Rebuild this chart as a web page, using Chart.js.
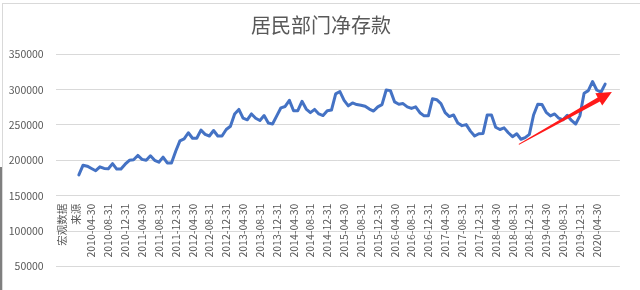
<!DOCTYPE html>
<html>
<head>
<meta charset="utf-8">
<script src="https://cdn.jsdelivr.net/npm/chart.js@4.4.1/dist/chart.umd.min.js"></script>
<style>
  html, body { margin: 0; padding: 0; background: #fff; overflow: hidden; width: 640px; height: 290px; }
  #frame { position: absolute; left: 2px; top: 3px; width: 660px; height: 400px; border: 1px solid #d9d9d9; box-sizing: border-box; }
  #wrap { position: absolute; left: 0; top: 0; width: 640px; height: 320px; }
  #edge { position: absolute; left: 0; top: 167px; width: 2px; height: 130px; background: #7f7f7f; }
</style>
</head>
<body>
<div id="frame"></div>
<div id="wrap"><canvas id="c"></canvas></div>
<div id="edge"></div>
<script>
// ---- text ----
const titleText = '居民部门净存款';
const sourceNote = ['宏观数据', '来源'];

// ---- categories: month-ends 2009-08 .. 2020-09 (data present 2010-01 .. 2020-06) ----
const axisStart = { year: 2009, month: 8 };
const axisMonths = 134;
const categories = [];
for (let k = 0; k < axisMonths; k++) {
  const y = axisStart.year + Math.floor((axisStart.month - 1 + k) / 12);
  const m = (axisStart.month - 1 + k) % 12 + 1;
  const d = new Date(Date.UTC(y, m, 0)).getUTCDate();
  categories.push(y + '-' + String(m).padStart(2, '0') + '-' + String(d).padStart(2, '0'));
}
const leadingBlank = 5;   // 2009-08 .. 2009-12
const trailingBlank = 3;  // 2020-07 .. 2020-09

// ---- tick labels shown on the category axis ----
const tickLabels = [
  '2010-04-30','2010-08-31','2010-12-31','2011-04-30','2011-08-31','2011-12-31',
  '2012-04-30','2012-08-31','2012-12-31','2013-04-30','2013-08-31','2013-12-31',
  '2014-04-30','2014-08-31','2014-12-31','2015-04-30','2015-08-31','2015-12-31',
  '2016-04-30','2016-08-31','2016-12-31','2017-04-30','2017-08-31','2017-12-31',
  '2018-04-30','2018-08-31','2018-12-31','2019-04-30','2019-08-31','2019-12-31',
  '2020-04-30'
];
const sourceNoteIndex = 1;

// ---- series: household net deposits, monthly 2010-01 .. 2020-06 ----
const netDeposits = [
  179400, 193100, 191700, 188500, 185300, 190800, 188500, 188100, 195400, 187600, 187600, 194500,
  200000, 200900, 206900, 201400, 200000, 206400, 200000, 197300, 204600, 196300, 196300, 212900,
  227500, 230300, 239000, 231200, 231200, 242700, 236700, 234400, 242200, 234400, 234400, 243600,
  248200, 265600, 272000, 259600, 257300, 265600, 259600, 256400, 263300, 252800, 251400, 262900,
  274300, 276200, 284900, 270200, 270200, 283500, 272500, 267400, 272000, 265600, 263300, 270200,
  271100, 294000, 297300, 284900, 277100, 281200, 278900, 278000, 276600, 272500, 269700, 275700,
  278900, 299500, 298600, 282600, 279400, 280300, 275700, 273400, 275700, 267400, 262900, 262900,
  287200, 285800, 280300, 267400, 261900, 264200, 252800, 249100, 250500, 241300, 234400, 237600,
  238100, 264200, 264200, 246800, 243600, 245900, 239000, 233500, 237600, 229800, 232100, 236700,
  264200, 279400, 278900, 267900, 262900, 265600, 259600, 257300, 263800, 256400, 251400, 262900,
  295000, 298600, 311500, 299500, 296300, 307800
];

// ---- y-axis ----
const yMin = 0, yMax = 350000, yStep = 50000;
const xAxisCrossesAt = 150000;

// ---- annotation arrow (category index, value) ----
const trendArrow = { fromIndex: 109.5, fromValue: 222600, toIndex: 131.6, toValue: 296500 };

const seriesData = new Array(leadingBlank).fill(null)
  .concat(netDeposits)
  .concat(new Array(trailingBlank).fill(null));

const FONT = '"Noto Sans CJK SC", "Noto Sans", sans-serif';
const GREY = '#595959';

const arrowPlugin = {
  id: 'trendArrow',
  afterDatasetsDraw(chart) {
    const xs = chart.scales.x, ys = chart.scales.y, ctx = chart.ctx;
    const x1 = xs.getPixelForValue(trendArrow.fromIndex), y1 = ys.getPixelForValue(trendArrow.fromValue);
    const x2 = xs.getPixelForValue(trendArrow.toIndex), y2 = ys.getPixelForValue(trendArrow.toValue);
    const len = Math.hypot(x2 - x1, y2 - y1);
    const ux = (x2 - x1) / len, uy = (y2 - y1) / len;
    const nx = -uy, ny = ux;
    const headLen = 15, headHalf = 7, tailHalf = 0.5, neckHalf = 2.3;
    const bx = x2 - ux * headLen, by = y2 - uy * headLen;
    ctx.save();
    ctx.fillStyle = '#ff1a1a';
    ctx.beginPath();
    ctx.moveTo(x1 + nx * tailHalf, y1 + ny * tailHalf);
    ctx.lineTo(bx + nx * neckHalf, by + ny * neckHalf);
    ctx.lineTo(bx + nx * headHalf, by + ny * headHalf);
    ctx.lineTo(x2, y2);
    ctx.lineTo(bx - nx * headHalf, by - ny * headHalf);
    ctx.lineTo(bx - nx * neckHalf, by - ny * neckHalf);
    ctx.lineTo(x1 - nx * tailHalf, y1 - ny * tailHalf);
    ctx.closePath();
    ctx.fill();
    ctx.restore();
  }
};

// let the y-axis labels use the full left margin (the layout keeps a left pad so the title centres like the original)
const yLabelRoom = {
  id: 'yLabelRoom',
  afterLayout(chart) { chart.scales.y.left = 0; }
};

new Chart(document.getElementById('c'), {
  type: 'line',
  data: {
    labels: categories,
    datasets: [{
      data: seriesData,
      borderColor: '#4472C4',
      borderWidth: 3,
      pointRadius: 0,
      tension: 0,
      borderJoinStyle: 'round',
      borderCapStyle: 'round',
      fill: false
    }]
  },
  options: {
    responsive: true,
    maintainAspectRatio: false,
    animation: false,
    layout: { padding: { top: 3, left: 15.3, right: 13.3, bottom: 12.3 } },
    plugins: {
      legend: { display: false },
      tooltip: { enabled: false },
      title: {
        display: true,
        text: titleText,
        color: GREY,
        font: { family: FONT, size: 20, weight: 'normal', lineHeight: 1.2 },
        padding: { top: 10, bottom: 17.3 }
      }
    },
    scales: {
      x: {
        type: 'category',
        offset: true,
        position: { y: xAxisCrossesAt },
        grid: { display: false, drawTicks: false },
        border: { display: false },
        ticks: {
          autoSkip: false,
          maxRotation: 90,
          minRotation: 90,
          padding: 8,
          color: GREY,
          font: { family: FONT, size: 10.5, lineHeight: 1.35 },
          callback: function (val, index) {
            if (index === sourceNoteIndex) return sourceNote;
            const lbl = this.getLabelForValue(val);
            return tickLabels.includes(lbl) ? lbl : '';
          }
        }
      },
      y: {
        min: yMin,
        max: yMax,
        afterFit(scale) { scale.width = 40.4; },
        grid: { color: '#d9d9d9', lineWidth: 1, drawTicks: false },
        border: { display: false },
        ticks: {
          stepSize: yStep,
          padding: 12,
          color: GREY,
          font: { family: FONT, size: 10.5 },
          callback: (v) => String(v)
        }
      }
    }
  },
  plugins: [arrowPlugin, yLabelRoom]
});
</script>
</body>
</html>
